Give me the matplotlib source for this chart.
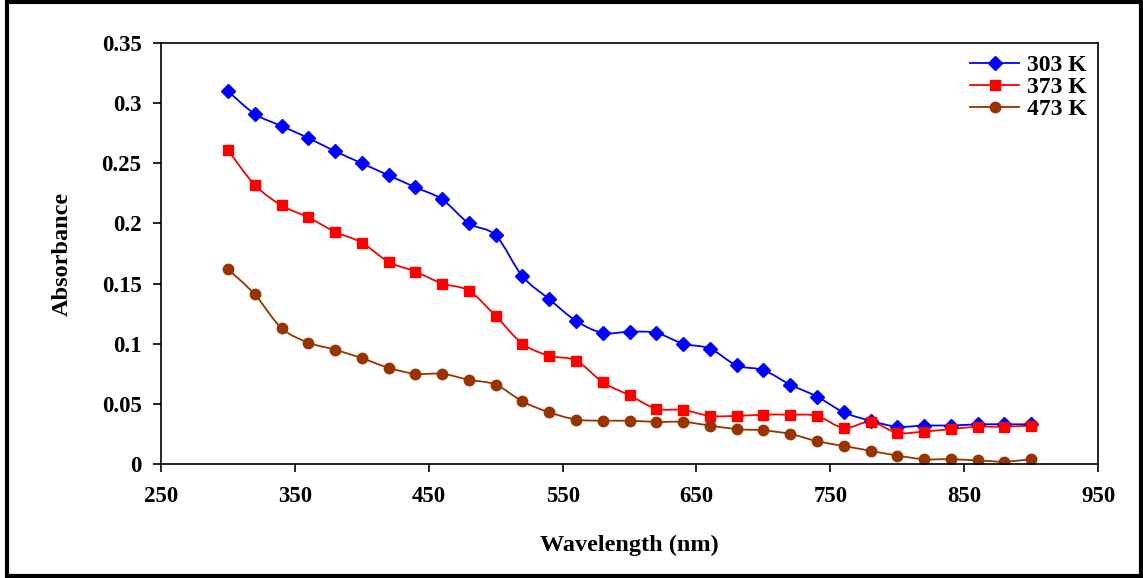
import numpy as np
import matplotlib.pyplot as plt
from matplotlib.path import Path
from matplotlib.patches import PathPatch, Rectangle
from matplotlib.lines import Line2D

# Wavelength points (nm)
wavelength = list(range(300, 901, 20))

# Absorbance
abs_303 = [0.310, 0.291, 0.281, 0.271, 0.260, 0.250, 0.240, 0.230, 0.220, 0.200,
           0.190, 0.156, 0.137, 0.119, 0.109, 0.110, 0.109, 0.100, 0.096, 0.082,
           0.078, 0.066, 0.056, 0.043, 0.036, 0.031, 0.032, 0.032, 0.033, 0.033,
           0.033]
abs_373 = [0.261, 0.232, 0.215, 0.205, 0.193, 0.184, 0.168, 0.160, 0.150, 0.144,
           0.123, 0.100, 0.090, 0.086, 0.068, 0.057, 0.046, 0.045, 0.040, 0.040,
           0.041, 0.041, 0.040, 0.030, 0.035, 0.026, 0.027, 0.029, 0.031, 0.031,
           0.032]
abs_473 = [0.162, 0.141, 0.113, 0.101, 0.095, 0.088, 0.080, 0.075, 0.075, 0.070,
           0.066, 0.052, 0.043, 0.037, 0.036, 0.036, 0.035, 0.035, 0.032, 0.029,
           0.028, 0.025, 0.019, 0.015, 0.011, 0.007, 0.004, 0.004, 0.003, 0.002,
           0.004]

labels = ['303 K', '373 K', '473 K']
colors = ['#0000FF', '#FF0000', '#993300']
markers = ['D', 's', 'o']

plt.rcParams['font.family'] = 'Liberation Serif'
plt.rcParams['font.weight'] = 'bold'


def smooth_path(x, y):
    # Excel-like smoothed line: Catmull-Rom segments as cubic Bezier curves
    x = np.asarray(x, float)
    y = np.asarray(y, float)
    verts = [(x[0], y[0])]
    codes = [Path.MOVETO]
    n = len(x)
    for i in range(n - 1):
        x0, y0 = (x[i - 1], y[i - 1]) if i > 0 else (x[i], y[i])
        x3, y3 = (x[i + 2], y[i + 2]) if i + 2 < n else (x[i + 1], y[i + 1])
        c1 = (x[i] + (x[i + 1] - x0) / 6, y[i] + (y[i + 1] - y0) / 6)
        c2 = (x[i + 1] - (x3 - x[i]) / 6, y[i + 1] - (y3 - y[i]) / 6)
        verts += [c1, c2, (x[i + 1], y[i + 1])]
        codes += [Path.CURVE4] * 3
    return Path(verts, codes)


fig = plt.figure(figsize=(11.43, 5.78), dpi=100)
ax = fig.add_axes([0.1409, 0.1972, 0.8198, 0.7284])

series = [abs_303, abs_373, abs_473]
handles = []
for vals, lab, col, mk in zip(series, labels, colors, markers):
    ax.add_patch(PathPatch(smooth_path(wavelength, vals), fill=False,
                           edgecolor=col, linewidth=1.3))
    ms = 7.5 if mk == 'D' else 7.5
    ax.plot(wavelength, vals, linestyle='none', marker=mk, color=col,
            markersize=ms, markeredgecolor=col)
    handles.append(Line2D([], [], color=col, marker=mk, markersize=ms,
                          linewidth=1.3, label=lab))

ax.set_xlim(250, 950)
ax.set_ylim(0, 0.35)
ax.set_xticks([250, 350, 450, 550, 650, 750, 850, 950])
ax.set_yticks([0, 0.05, 0.1, 0.15, 0.2, 0.25, 0.3, 0.35])
ax.set_yticklabels(['0', '0.05', '0.1', '0.15', '0.2', '0.25', '0.3', '0.35'])
ax.tick_params(direction='out', length=6, width=1.2, labelsize=16.5)
ax.tick_params(axis='x', pad=10)
ax.tick_params(axis='y', pad=8)
for s in ax.spines.values():
    s.set_linewidth(1.2)

ax.set_xlabel('Wavelength (nm)', fontsize=17.5, fontweight='bold', labelpad=20)
ax.set_ylabel('Absorbance', fontsize=17.5, fontweight='bold', labelpad=21)

leg = ax.legend(handles=handles, loc='upper right', fontsize=17,
                frameon=False, borderaxespad=0.1,
                handlelength=2.1, handletextpad=0.3, labelspacing=0.02,
                borderpad=0.4)
for t in leg.get_texts():
    t.set_fontweight('bold')

# Thick black border around the whole figure
fig.patches.append(Rectangle((0.0061, 0.0035), 0.9922, 0.993, transform=fig.transFigure,
                             fill=False, edgecolor='black', linewidth=3))

fig.savefig('out.png', dpi=100)
